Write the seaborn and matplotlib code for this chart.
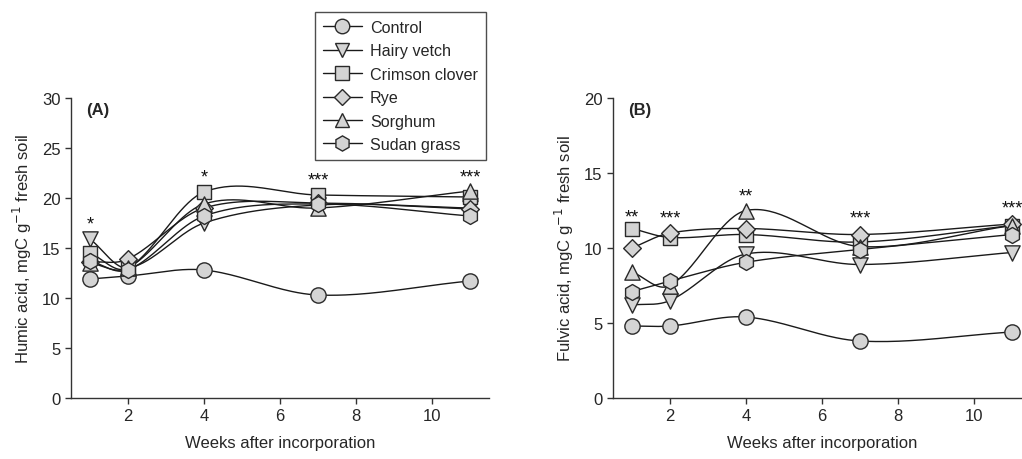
import numpy as np
import pandas as pd
import matplotlib
matplotlib.use("Agg")
import matplotlib.pyplot as plt
from matplotlib.lines import Line2D
import seaborn as sns

weeks = [1, 2, 4, 7, 11]
treatments = ["Control", "Hairy vetch", "Crimson clover", "Rye", "Sorghum", "Sudan grass"]

humic_control = [11.9, 12.2, 12.8, 10.3, 11.7]
humic_hairy_vetch = [15.9, 13.0, 17.5, 19.3, 19.0]
humic_crimson_clover = [14.5, 13.0, 20.6, 20.3, 20.1]
humic_rye = [13.6, 13.9, 19.0, 19.5, 18.9]
humic_sorghum = [13.5, 13.0, 19.4, 19.0, 20.7]
humic_sudan_grass = [13.7, 12.8, 18.2, 19.4, 18.2]

fulvic_control = [4.8, 4.8, 5.4, 3.8, 4.4]
fulvic_hairy_vetch = [6.2, 6.5, 9.6, 8.9, 9.7]
fulvic_crimson_clover = [11.3, 10.7, 10.9, 10.4, 11.5]
fulvic_rye = [10.0, 11.0, 11.3, 10.9, 11.6]
fulvic_sorghum = [8.4, 7.5, 12.5, 10.1, 11.5]
fulvic_sudan_grass = [7.1, 7.8, 9.05, 9.9, 10.9]

humic_stars = ["*", "", "*", "***", "***"]
humic_star_y = [17.4, None, 22.1, 21.8, 22.1]
fulvic_stars = ["**", "***", "**", "***", "***"]
fulvic_star_y = [12.1, 12.0, 13.5, 12.0, 12.7]

humic = [humic_control, humic_hairy_vetch, humic_crimson_clover, humic_rye, humic_sorghum, humic_sudan_grass]
fulvic = [fulvic_control, fulvic_hairy_vetch, fulvic_crimson_clover, fulvic_rye, fulvic_sorghum, fulvic_sudan_grass]

markers = {"Control": "o", "Hairy vetch": "v", "Crimson clover": "s",
           "Rye": "D", "Sorghum": "^", "Sudan grass": "h"}
msizes = {"Control": 11, "Hairy vetch": 11, "Crimson clover": 10,
          "Rye": 9, "Sorghum": 11, "Sudan grass": 11.5}

sns.set_style("ticks")
plt.rcParams["font.family"] = ["Liberation Sans", "DejaVu Sans"]

FACE = "#d4d4d4"
EDGE = "#2a2a2a"
FS = 12


def smooth_curve(x, y, n=40):
    """Cardinal (Catmull-Rom) cubic Hermite curve through the data points."""
    x = np.asarray(x, float)
    y = np.asarray(y, float)
    k = len(x)
    m = np.empty(k)
    m[0] = (y[1] - y[0]) / (x[1] - x[0])
    m[-1] = (y[-1] - y[-2]) / (x[-1] - x[-2])
    for i in range(1, k - 1):
        m[i] = (y[i + 1] - y[i - 1]) / (x[i + 1] - x[i - 1])
    xs_all, ys_all = [], []
    for i in range(k - 1):
        h = x[i + 1] - x[i]
        t = np.linspace(0, 1, n)
        h00 = 2 * t ** 3 - 3 * t ** 2 + 1
        h10 = t ** 3 - 2 * t ** 2 + t
        h01 = -2 * t ** 3 + 3 * t ** 2
        h11 = t ** 3 - t ** 2
        xs_all.append(x[i] + t * h)
        ys_all.append(h00 * y[i] + h10 * h * m[i] + h01 * y[i + 1] + h11 * h * m[i + 1])
    return np.concatenate(xs_all), np.concatenate(ys_all)


fig = plt.figure(figsize=(10.22, 4.6), dpi=100)
axA = fig.add_axes([71 / 1022, 61 / 460, 418 / 1022, 300 / 460])
axB = fig.add_axes([613 / 1022, 61 / 460, 418 / 1022, 300 / 460])


def draw(ax, series, ymax, yticks, ylabel, panel, stars, star_y):
    rows = []
    for name, vals in zip(treatments, series):
        xs, ys = smooth_curve(weeks, vals)
        ax.plot(xs, ys, color="#1a1a1a", lw=1.0, zorder=2, clip_on=False)
        for w, v in zip(weeks, vals):
            rows.append({"week": w, "value": v, "treatment": name})
    df = pd.DataFrame(rows)
    for name in treatments:
        sub = df[df["treatment"] == name]
        sns.scatterplot(data=sub, x="week", y="value", marker=markers[name],
                        s=msizes[name] ** 2, color=FACE, edgecolor=EDGE,
                        linewidth=1.0, ax=ax, legend=False, zorder=3, clip_on=False)
    for w, s, yv in zip(weeks, stars, star_y):
        if s:
            ax.text(w, yv, s, ha="center", va="center", fontsize=13, color="#111")
    ax.set_xlim(0.5, 11.5)
    ax.set_ylim(0, ymax)
    ax.set_xticks([2, 4, 6, 8, 10])
    ax.set_yticks(yticks)
    ax.tick_params(labelsize=FS, length=4, width=1, color="#333", direction="out")
    ax.set_xlabel("Weeks after incorporation", fontsize=FS, labelpad=8)
    ax.set_ylabel(ylabel, fontsize=FS, labelpad=6)
    for sp in ["top", "right"]:
        ax.spines[sp].set_visible(False)
    for sp in ["left", "bottom"]:
        ax.spines[sp].set_color("#333")
        ax.spines[sp].set_linewidth(1.0)
    ax.text(0.035, 0.985, panel, transform=ax.transAxes, ha="left", va="top",
            fontsize=FS, fontweight="bold")


draw(axA, humic, 30, [0, 5, 10, 15, 20, 25, 30],
     "Humic acid, mgC g$^{-1}$ fresh soil", "(A)", humic_stars, humic_star_y)
draw(axB, fulvic, 20, [0, 5, 10, 15, 20],
     "Fulvic acid, mgC g$^{-1}$ fresh soil", "(B)", fulvic_stars, fulvic_star_y)

handles = [Line2D([0], [0], color="#1a1a1a", lw=1.0, marker=markers[n],
                  markersize=msizes[n] * 0.95, markerfacecolor=FACE,
                  markeredgecolor=EDGE, markeredgewidth=1.0) for n in treatments]
leg = fig.legend(handles, treatments, loc="upper left",
                 bbox_to_anchor=(315 / 1022, 1 - 13 / 460), frameon=True,
                 fancybox=False, edgecolor="#222", fontsize=11.6,
                 handlelength=2.4, handletextpad=0.5, labelspacing=0.52,
                 borderpad=0.5, borderaxespad=0)
leg.get_frame().set_linewidth(1.0)

fig.savefig("out.png", dpi=100, facecolor="white")
